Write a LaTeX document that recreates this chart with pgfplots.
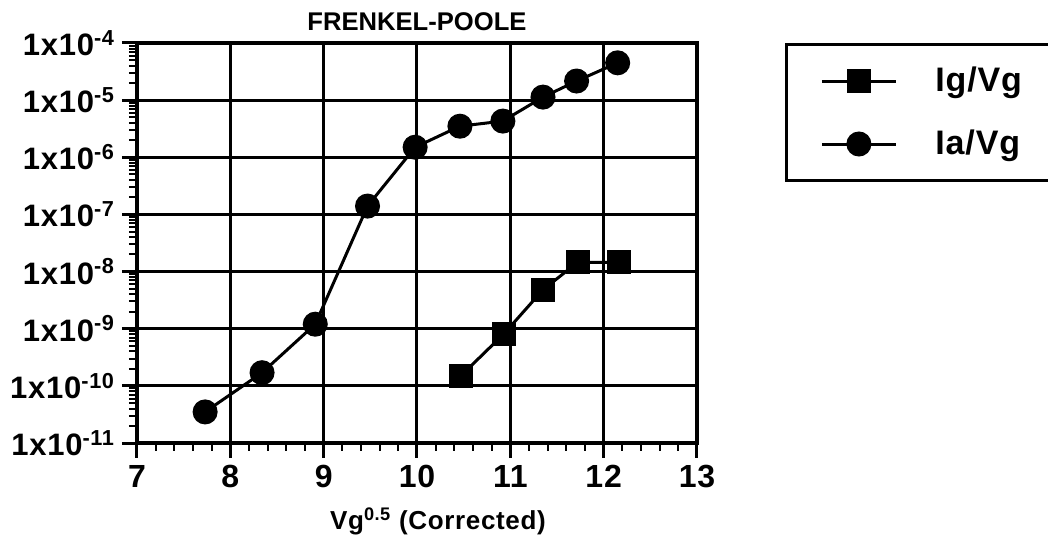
\documentclass[border=0pt]{standalone}
\usepackage{pgfplots}
\pgfplotsset{compat=1.18}
\usepackage{pgfplotstable}
\usepackage{fontspec}
\setmainfont{Liberation Sans}
\newfontfamily\widefont[LetterSpace=2.5]{Liberation Sans}

% Ig/Vg (squares)
\pgfplotstableread{
x     y
10.47 1.5e-10
10.93 8.1e-10
11.35 4.8e-9
11.72 1.45e-8
12.16 1.45e-8
}\igdata

% Ia/Vg (circles)
\pgfplotstableread{
x     y
7.73  3.5e-11
8.34  1.7e-10
8.91  1.2e-9
9.47  1.4e-7
9.98  1.5e-6
10.46 3.5e-6
10.92 4.3e-6
11.35 1.13e-5
11.71 2.16e-5
12.15 4.5e-5
}\iadata

\begin{document}
\begin{tikzpicture}
\begin{axis}[
    at={(0,0)}, anchor=south west,
    scale only axis, width=280pt, height=200pt,
    ymode=log,
    xmin=7, xmax=13,
    ymin=1e-11, ymax=1e-4,
    xtick={7,8,9,10,11,12,13},
    minor x tick num=4,
    ytick={1e-11,1e-10,1e-9,1e-8,1e-7,1e-6,1e-5,1e-4},
    yticklabels={1x10\textsuperscript{-11},1x10\textsuperscript{-10},1x10\textsuperscript{-9},1x10\textsuperscript{-8},1x10\textsuperscript{-7},1x10\textsuperscript{-6},1x10\textsuperscript{-5},1x10\textsuperscript{-4}},
    xtick pos=bottom, ytick pos=left,
    tick align=outside,
    major tick length=7.5pt, minor tick length=4pt,
    major tick style={line width=1.5pt, black},
    minor tick style={line width=1pt, black},
    grid=major,
    major grid style={line width=1.5pt, black},
    axis line style={line width=1.75pt},
    /pgf/number format/assume math mode=true,
    xticklabel style={font=\widefont\fontsize{16}{18}\selectfont\bfseries},
    yticklabel style={font=\widefont\fontsize{15.5}{17}\selectfont\bfseries},
    title={FRENKEL-POOLE},
    title style={font=\fontsize{12.8}{14}\selectfont\bfseries, at={(axis description cs:0.5,1)}, anchor=base, yshift=0pt},
    xlabel={Vg\textsuperscript{0.5} (Corrected)},
    xlabel style={font=\widefont\fontsize{13}{15}\selectfont\bfseries, at={(axis description cs:0.5375,0)}, anchor=base, yshift=-43pt},
    legend style={at={(rel axis cs:1.157,1)}, anchor=north west,
        draw=black, line width=1.5pt,
        inner xsep=17pt, inner ysep=11.5pt,
        row sep=18pt,
        font=\widefont\fontsize{17}{19}\selectfont\bfseries,
        nodes={inner sep=0pt},
        /tikz/every odd column/.append style={column sep=19pt},
        /tikz/every even column/.append style={text height=12pt, text depth=0pt}},
    legend cell align=left,
    legend image code/.code={\draw[mark repeat=2, mark phase=2] plot coordinates {(0pt,0pt) (18.5pt,0pt) (37pt,0pt)};},
]
\addplot[black, line width=1.5pt, mark=square*, mark size=5.25pt] table[x=x, y=y] {\igdata};
\addlegendentry{Ig/Vg}
\addplot[black, line width=1.5pt, mark=*, mark size=5.5pt] table[x=x, y=y] {\iadata};
\addlegendentry{Ia/Vg}
\end{axis}
\pgfresetboundingbox
\path[use as bounding box] (-68.5pt,-48pt) rectangle (455.5pt,221.5pt);
\end{tikzpicture}
\end{document}
